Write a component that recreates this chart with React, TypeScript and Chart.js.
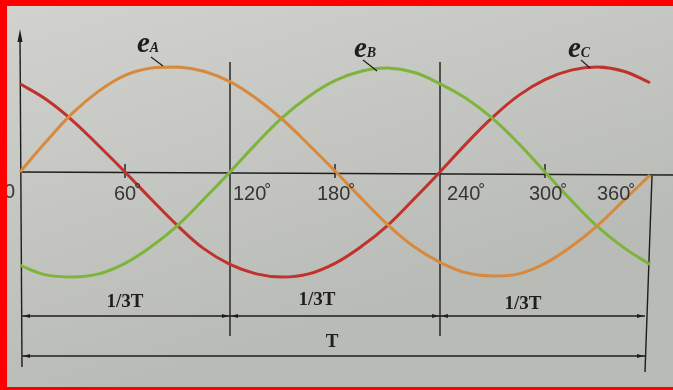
import React, { useEffect, useRef } from "react";
import { Chart, registerables } from "chart.js";

Chart.register(...registerables);

// Phase angle (degrees) of each sample point
const degrees = [0, 15, 30, 45, 60, 75, 90, 105, 120, 135, 150, 165, 180, 195, 210, 225, 240, 255, 270, 285, 300, 315, 330, 345, 360];
// Values (amplitude ≈ 1)
const eA = [0, 0.29, 0.56, 0.77, 0.92, 0.99, 1.0, 0.96, 0.86, 0.7, 0.5, 0.26, 0.01, -0.25, -0.5, -0.71, -0.86, -0.96, -0.99, -0.97, -0.87, -0.71, -0.51, -0.27, -0.03];
const eB = [-0.89, -0.98, -1.0, -0.97, -0.87, -0.71, -0.51, -0.26, 0, 0.27, 0.52, 0.72, 0.87, 0.96, 0.99, 0.95, 0.84, 0.7, 0.51, 0.27, 0, -0.27, -0.52, -0.72, -0.88];
const eC = [0.84, 0.69, 0.49, 0.25, 0, -0.26, -0.51, -0.73, -0.88, -0.97, -1.0, -0.97, -0.87, -0.71, -0.51, -0.26, 0, 0.27, 0.52, 0.73, 0.88, 0.97, 1.0, 0.96, 0.85];

const seriesKeys = ["A", "B", "C"];
const seriesColors = ["#d78a3d", "#7db53a", "#c0322b"];

const tickDegrees = [60, 120, 180, 240, 300, 360];
const tickLabels = ["60", "120", "180", "240", "300", "360"];
const phaseDegrees = [0, 120, 240, 360];
const periodLabel = "T";
const thirdLabel = "1/3T";

export default function App() {
  const ref = useRef<HTMLCanvasElement | null>(null);

  useEffect(() => {
    document.body.style.margin = "0";
    const canvas = ref.current;
    if (!canvas) return;

    const toPts = (arr: number[]) => arr.map((v, i) => ({ x: degrees[i], y: v }));

    const ink = "#1e1e1e";
    const serif = '"Liberation Serif", "Times New Roman", serif';
    const sans = '"Liberation Sans", Arial, sans-serif';

    const deco = {
      id: "deco",
      beforeDraw(chart: any) {
        const ctx = chart.ctx;
        ctx.save();
        const g = ctx.createLinearGradient(0, 0, 120, 390);
        g.addColorStop(0, "#d2d3ce");
        g.addColorStop(1, "#b9bbb6");
        ctx.fillStyle = g;
        ctx.fillRect(0, 0, 673, 390);
        ctx.restore();
      },
      beforeDatasetsDraw(chart: any) {
        const ctx = chart.ctx;
        const xs = chart.scales.x;
        const ys = chart.scales.y;
        const x0 = xs.getPixelForValue(0);
        const y0 = ys.getPixelForValue(0);
        ctx.save();
        ctx.strokeStyle = ink;
        ctx.fillStyle = ink;
        ctx.lineWidth = 1.4;
        // horizontal axis
        ctx.beginPath();
        ctx.moveTo(x0, y0);
        ctx.lineTo(673, y0 + 3);
        ctx.stroke();
        // vertical axis
        ctx.beginPath();
        ctx.moveTo(x0, 36);
        ctx.lineTo(x0 + 2, 367);
        ctx.stroke();
        ctx.beginPath();
        ctx.moveTo(x0, 29);
        ctx.lineTo(x0 - 2.5, 42);
        ctx.lineTo(x0 + 2.5, 42);
        ctx.closePath();
        ctx.fill();
        // tick marks
        [60, 180, 300].forEach((d) => {
          const px = xs.getPixelForValue(d);
          ctx.beginPath();
          ctx.moveTo(px, y0 - 8);
          ctx.lineTo(px, y0 + 6);
          ctx.stroke();
        });
        // phase separators
        [120, 240].forEach((d) => {
          const px = xs.getPixelForValue(d);
          ctx.beginPath();
          ctx.moveTo(px, 62);
          ctx.lineTo(px, 336);
          ctx.stroke();
        });
        const x360 = xs.getPixelForValue(360);
        ctx.beginPath();
        ctx.moveTo(x360 + 2, y0 + 4);
        ctx.lineTo(x360 - 5, 372);
        ctx.stroke();
        // dimension lines
        const arrow = (x: number, y: number, dir: number) => {
          ctx.beginPath();
          ctx.moveTo(x, y);
          ctx.lineTo(x - dir * 7, y - 2);
          ctx.lineTo(x - dir * 7, y + 2);
          ctx.closePath();
          ctx.fill();
        };
        const dim = (a: number, b: number, y: number) => {
          ctx.beginPath();
          ctx.moveTo(a, y);
          ctx.lineTo(b, y);
          ctx.stroke();
          arrow(a + 1, y, -1);
          arrow(b - 1, y, 1);
        };
        for (let i = 0; i < phaseDegrees.length - 1; i++) {
          const a = xs.getPixelForValue(phaseDegrees[i]) + (i === 0 ? 2 : 0);
          const b = xs.getPixelForValue(phaseDegrees[i + 1]) - (i === 2 ? 5 : 0);
          dim(a, b, 316);
        }
        dim(x0 + 2, x360 - 5, 356);
        ctx.restore();
      },
      afterDraw(chart: any) {
        const ctx = chart.ctx;
        const xs = chart.scales.x;
        ctx.save();
        // tick labels
        const offs = [-11, 3, -18, 7, -16, -53];
        ctx.fillStyle = "#363636";
        ctx.textBaseline = "alphabetic";
        ctx.textAlign = "left";
        tickDegrees.forEach((d, i) => {
          const px = xs.getPixelForValue(d) + offs[i];
          ctx.font = `20px ${sans}`;
          ctx.fillText(tickLabels[i], px, 200);
          const w = ctx.measureText(tickLabels[i]).width;
          ctx.font = `17px ${sans}`;
          ctx.fillText("°", px + w - 2, 195);
        });
        ctx.font = `20px ${sans}`;
        ctx.fillText("0", 4, 198);

        // 1/3T and T labels
        ctx.fillStyle = ink;
        ctx.textAlign = "center";
        ctx.font = `bold 19px ${serif}`;
        const thirdPos = [125, 317, 523];
        const thirdBase = [307, 305, 309];
        thirdPos.forEach((p, i) => ctx.fillText(thirdLabel, p, thirdBase[i]));
        ctx.fillText(periodLabel, 332, 347);

        // series labels
        ctx.textAlign = "left";
        const lab = [
          { x: 137, y: 52, l: [151, 57, 163, 66] },
          { x: 354, y: 57, l: [363, 60, 377, 71] },
          { x: 568, y: 57, l: [581, 60, 590, 68] },
        ];
        lab.forEach((p, i) => {
          ctx.fillStyle = ink;
          ctx.font = `italic bold 29px ${serif}`;
          ctx.fillText("e", p.x, p.y);
          const w = ctx.measureText("e").width;
          ctx.font = `italic bold 14px ${serif}`;
          ctx.fillText(seriesKeys[i], p.x + w, p.y);
          ctx.strokeStyle = ink;
          ctx.lineWidth = 1.2;
          ctx.beginPath();
          ctx.moveTo(p.l[0], p.l[1]);
          ctx.lineTo(p.l[2], p.l[3]);
          ctx.stroke();
        });

        // red frame
        ctx.fillStyle = "#ff0000";
        ctx.fillRect(0, 0, 673, 6);
        ctx.fillRect(0, 0, 7, 390);
        ctx.fillRect(0, 387, 673, 3);
        ctx.restore();
      },
    };

    const chart = new Chart(canvas, {
      type: "line",
      data: {
        datasets: [eA, eB, eC].map((arr, i) => ({
          label: "e" + seriesKeys[i],
          data: toPts(arr),
          borderColor: seriesColors[i],
          borderWidth: 3,
          pointRadius: 0,
          tension: 0.4,
          fill: false,
          clip: false as any,
        })),
      },
      options: {
        animation: false,
        responsive: false,
        devicePixelRatio: 1,
        layout: { padding: { left: 20, right: 23, top: 67, bottom: 113 } },
        scales: {
          x: { type: "linear", min: 0, max: 360, display: false },
          y: { type: "linear", min: -1, max: 1, display: false },
        },
        plugins: { legend: { display: false }, tooltip: { enabled: false } },
      },
      plugins: [deco],
    });
    return () => chart.destroy();
  }, []);

  return <canvas ref={ref} width={673} height={390} style={{ display: "block" }} />;
}
